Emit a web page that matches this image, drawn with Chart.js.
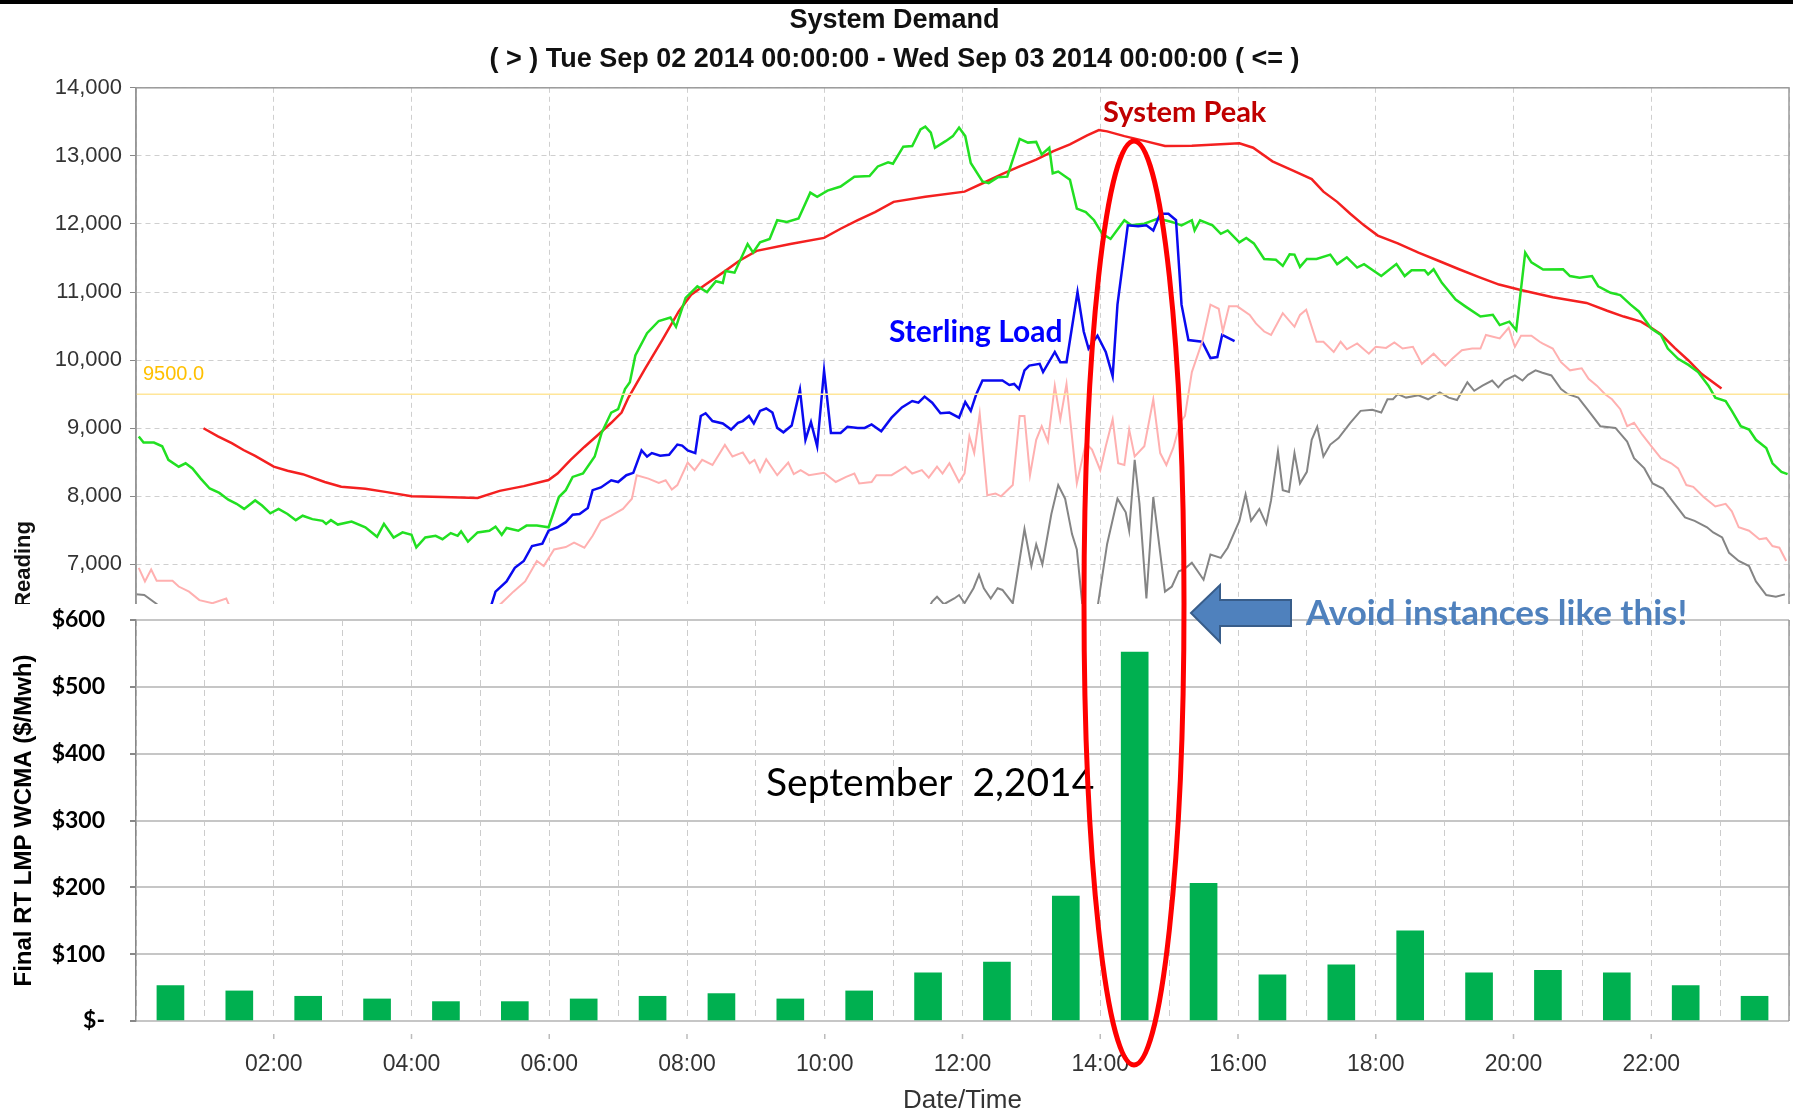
<!DOCTYPE html>
<html lang="en">
<head>
<meta charset="UTF-8">
<title>System Demand</title>
<script src="https://cdn.jsdelivr.net/npm/chart.js"></script>
<style>
  html, body { margin: 0; padding: 0; background: #fff; }
  body { width: 1793px; height: 1116px; position: relative; overflow: hidden; }
  #topbar { position: absolute; left: 0; top: 0; width: 1793px; height: 4px; background: #000; z-index: 5; }
  .layer { position: absolute; left: 0; top: 0; width: 1793px; height: 1116px; }
</style>
</head>
<body>
<div id="topbar"></div>
<div class="layer"><canvas id="demandChart"></canvas></div>
<div class="layer"><canvas id="priceChart"></canvas></div>

<script>
// ---- top chart: readings (MW) by hour of day ----
const peakHours = [0.98,1.19,1.39,1.56,1.73,2.0,2.2,2.42,2.74,2.98,3.33,3.62,4.0,4.45,4.96,5.28,5.63,5.99,6.12,6.31,6.51,6.71,6.9,7.05,7.15,7.39,7.64,7.88,8.06,8.27,8.52,8.76,9.01,9.5,9.99,10.23,10.48,10.73,11.0,11.46,12.03,12.34,12.58,12.83,13.07,13.32,13.56,13.81,13.98,14.1,14.35,14.64,14.94,15.33,16.02,16.22,16.5,16.8,17.07,17.24,17.44,17.63,17.83,18.03,18.32,18.62,18.91,19.21,19.5,19.79,20.09,20.57,21.06,21.36,21.6,21.85,22.0,22.14,22.34,22.54,22.73,23.02];
const peakMw = [9000,8880,8780,8680,8595,8435,8375,8325,8210,8140,8110,8065,8000,7990,7975,8080,8150,8240,8335,8535,8725,8905,9080,9230,9450,9870,10295,10715,10960,11110,11285,11460,11605,11705,11795,11930,12055,12175,12325,12400,12475,12620,12735,12845,12945,13070,13170,13300,13380,13360,13290,13220,13145,13150,13185,13120,12920,12785,12660,12475,12325,12150,11980,11830,11715,11580,11460,11335,11220,11110,11035,10925,10840,10725,10640,10565,10475,10380,10180,9995,9800,9585];

const demandHours = [0.04,0.11,0.26,0.38,0.47,0.62,0.72,0.82,0.94,1.07,1.21,1.34,1.46,1.57,1.73,1.83,1.95,2.07,2.2,2.32,2.42,2.56,2.71,2.76,2.83,2.93,3.13,3.33,3.5,3.6,3.74,3.87,4.0,4.07,4.2,4.35,4.45,4.57,4.67,4.72,4.82,4.96,5.13,5.22,5.31,5.38,5.55,5.67,5.82,5.99,6.14,6.24,6.34,6.49,6.66,6.76,6.9,7.0,7.1,7.17,7.25,7.42,7.59,7.76,7.84,7.98,8.15,8.29,8.42,8.52,8.56,8.69,8.88,8.96,9.06,9.2,9.31,9.45,9.62,9.79,9.89,10.04,10.23,10.43,10.65,10.77,10.92,10.99,11.14,11.27,11.39,11.46,11.54,11.6,11.76,11.86,11.95,12.04,12.12,12.29,12.38,12.51,12.65,12.73,12.83,12.95,13.07,13.15,13.26,13.31,13.39,13.56,13.66,13.79,13.91,14.03,14.15,14.35,14.45,14.64,14.84,15.04,15.18,15.33,15.37,15.45,15.63,15.75,15.85,16.02,16.12,16.23,16.38,16.55,16.65,16.75,16.82,16.9,17.0,17.14,17.34,17.44,17.58,17.73,17.83,18.08,18.3,18.42,18.52,18.71,18.76,18.84,18.96,19.16,19.3,19.52,19.7,19.8,19.94,20.04,20.17,20.26,20.43,20.72,20.82,20.96,21.14,21.23,21.41,21.55,21.7,21.82,22.0,22.14,22.24,22.39,22.54,22.68,22.83,22.93,23.08,23.17,23.3,23.42,23.52,23.67,23.76,23.89,23.98];
const demandMw = [8880,8790,8790,8735,8535,8435,8485,8410,8260,8115,8050,7950,7890,7815,7940,7865,7750,7815,7740,7650,7715,7665,7640,7595,7650,7585,7630,7545,7405,7595,7395,7470,7435,7250,7395,7420,7370,7460,7420,7485,7335,7470,7495,7555,7435,7535,7495,7570,7570,7545,7990,8090,8285,8335,8585,8930,9230,9280,9575,9675,10070,10395,10575,10625,10490,10915,11085,11000,11160,11135,11310,11285,11705,11580,11730,11780,12055,12030,12080,12460,12400,12490,12550,12695,12705,12845,12905,12885,13135,13145,13390,13430,13340,13120,13220,13290,13415,13290,12895,12625,12600,12685,12695,12945,13250,13195,13205,13020,13120,12745,12770,12650,12225,12175,12055,11855,11780,12055,11980,12005,12080,12030,11980,12055,11905,12055,11980,11855,11905,11730,11795,11715,11485,11475,11385,11555,11550,11370,11485,11485,11550,11410,11510,11360,11410,11235,11410,11235,11320,11320,11260,11335,11135,10890,10790,10640,10665,10515,10565,10440,11580,11435,11330,11335,11235,11210,11235,11085,10990,10955,10815,10715,10465,10370,10170,10020,9930,9825,9625,9450,9400,9255,9030,8980,8830,8710,8485,8360,8325];

const sterlingHours = [5.1,5.16,5.22,5.38,5.5,5.63,5.75,5.9,5.99,6.12,6.24,6.34,6.44,6.56,6.63,6.75,6.9,7.0,7.12,7.22,7.34,7.42,7.49,7.61,7.74,7.86,7.93,8.01,8.12,8.2,8.27,8.37,8.52,8.64,8.74,8.81,8.9,8.97,9.06,9.15,9.24,9.31,9.4,9.52,9.64,9.72,9.8,9.89,9.99,10.09,10.23,10.33,10.48,10.58,10.68,10.82,10.97,11.12,11.27,11.36,11.45,11.56,11.68,11.81,11.95,12.04,12.12,12.2,12.29,12.58,12.68,12.75,12.82,12.9,12.97,13.12,13.17,13.34,13.42,13.51,13.67,13.76,13.83,13.96,14.08,14.18,14.25,14.4,14.55,14.67,14.77,14.87,14.99,15.1,15.18,15.28,15.48,15.6,15.7,15.77,15.95];
const sterlingMw = [6250,6405,6600,6750,6950,7050,7270,7305,7495,7545,7620,7730,7740,7830,8090,8130,8235,8210,8310,8345,8675,8585,8635,8595,8610,8760,8745,8675,8635,9180,9220,9105,9070,8980,9080,9105,9180,9070,9255,9290,9230,9005,8940,9040,9565,8830,9090,8735,9845,8930,8930,9020,9005,9005,9055,8955,9155,9305,9400,9375,9465,9375,9220,9230,9155,9385,9255,9500,9700,9700,9635,9650,9575,9850,9920,9945,9825,10120,9970,9970,11000,10420,10170,10360,10120,9765,10815,11980,11965,11980,11905,12150,12150,12055,10815,10295,10270,10030,10045,10370,10280];

const pinkHours = [0.04,0.13,0.22,0.3,0.53,0.62,0.77,0.92,1.11,1.31,1.36,1.45,5.2,5.28,5.48,5.65,5.82,5.92,6.07,6.24,6.36,6.51,6.63,6.75,6.9,7.07,7.2,7.27,7.44,7.59,7.69,7.78,7.86,8.01,8.11,8.22,8.37,8.55,8.66,8.81,8.91,8.98,9.06,9.15,9.31,9.47,9.55,9.65,9.77,9.99,10.16,10.31,10.43,10.5,10.68,10.75,10.97,11.17,11.27,11.41,11.51,11.63,11.71,11.81,11.95,12.03,12.1,12.17,12.25,12.36,12.48,12.56,12.73,12.83,12.9,12.98,13.07,13.15,13.24,13.34,13.42,13.51,13.66,13.79,13.88,14.0,14.08,14.18,14.26,14.35,14.42,14.5,14.64,14.77,14.87,14.96,15.06,15.16,15.23,15.33,15.48,15.6,15.72,15.78,15.87,15.99,16.17,16.26,16.38,16.48,16.65,16.82,16.9,16.99,17.14,17.24,17.39,17.49,17.58,17.73,17.9,18.0,18.15,18.27,18.39,18.54,18.67,18.84,19.01,19.11,19.25,19.4,19.52,19.6,19.8,19.93,20.02,20.11,20.26,20.38,20.42,20.57,20.69,20.82,20.99,21.09,21.21,21.33,21.43,21.55,21.65,21.75,21.87,22.02,22.14,22.29,22.39,22.51,22.61,22.76,22.93,23.08,23.17,23.27,23.42,23.57,23.67,23.76,23.86,23.96];
const pinkMw = [6950,6750,6925,6760,6760,6675,6600,6475,6430,6500,6380,6250,6250,6405,6600,6750,7050,6975,7220,7255,7320,7245,7420,7640,7715,7815,7965,8310,8260,8195,8235,8100,8165,8495,8385,8535,8460,8755,8585,8645,8485,8535,8360,8545,8310,8495,8325,8385,8310,8345,8210,8285,8335,8190,8210,8310,8310,8435,8335,8385,8275,8435,8335,8485,8210,8335,8880,8635,9215,8015,8040,8000,8165,9180,9180,8310,8830,9030,8805,9625,9130,9650,8190,8780,8685,8385,8735,9130,8485,8460,8980,8585,8735,9425,8635,8460,8710,9080,9180,9825,10270,10815,10755,10420,10790,10790,10665,10540,10420,10370,10690,10490,10665,10740,10270,10270,10120,10270,10160,10245,10095,10195,10180,10260,10170,10195,9945,10095,9920,10020,10145,10170,10170,10370,10320,10475,10195,10360,10360,10270,10245,10170,9970,9850,9880,9725,9625,9500,9425,9280,9030,9080,8905,8710,8560,8485,8410,8165,8140,7990,7850,7890,7780,7545,7495,7370,7385,7270,7245,7050];

const grayHours = [0.0,0.12,0.3,0.45,11.45,11.56,11.63,11.73,11.88,11.95,12.03,12.16,12.24,12.31,12.41,12.51,12.58,12.73,12.9,13.0,13.07,13.16,13.29,13.39,13.49,13.59,13.66,13.75,13.95,14.1,14.25,14.37,14.42,14.5,14.57,14.67,14.77,14.94,15.04,15.14,15.21,15.33,15.5,15.6,15.75,15.85,16.02,16.11,16.19,16.31,16.41,16.48,16.58,16.65,16.74,16.82,16.9,17.0,17.07,17.15,17.24,17.34,17.46,17.63,17.78,17.95,18.08,18.17,18.25,18.32,18.44,18.62,18.76,18.93,19.06,19.18,19.33,19.43,19.55,19.69,19.78,19.87,20.02,20.13,20.21,20.32,20.42,20.55,20.69,20.79,20.94,21.09,21.26,21.48,21.65,21.75,21.9,22.02,22.17,22.34,22.49,22.63,22.81,22.9,23.03,23.13,23.27,23.42,23.52,23.67,23.81,23.94];
const grayMw = [6560,6550,6420,6250,6250,6455,6525,6415,6500,6550,6430,6650,6850,6650,6500,6650,6625,6430,7520,6975,7295,7000,7740,8165,7965,7445,7220,6300,6300,7300,7965,7765,7495,8535,7890,6500,7990,6600,6675,6900,6925,7025,6775,7145,7095,7245,7640,8030,7640,7815,7595,7940,8660,8090,8065,8635,8190,8360,8830,9020,8585,8760,8855,9080,9255,9270,9230,9425,9425,9500,9450,9485,9425,9525,9450,9415,9675,9550,9625,9700,9600,9700,9775,9700,9785,9850,9815,9775,9575,9500,9450,9255,9030,9005,8805,8560,8410,8190,8115,7890,7690,7640,7545,7470,7395,7170,7050,6975,6750,6550,6525,6560];

const thresholdMw = 9500;

// ---- bottom chart: hourly price ----
const priceHours = [0.5,1.5,2.5,3.5,4.5,5.5,6.5,7.5,8.5,9.5,10.5,11.5,12.5,13.5,14.5,15.5,16.5,17.5,18.5,19.5,20.5,21.5,22.5,23.5];
const priceUsd = [53,45,37,33,29,29,33,37,41,33,45,72,88,187,552,206,69,84,135,72,76,72,53,37];
const timeLabels = ['', '02:00', '04:00', '06:00', '08:00', '10:00', '12:00', '14:00', '16:00', '18:00', '20:00', '22:00', ''];

const pts = (xs, ys) => xs.map((x, i) => ({ x: x, y: ys[i] }));
const sans = 'Liberation Sans, Arial, sans-serif';
const callout = 'Lato, "Open Sans", sans-serif';

function line(data, color, width) {
    return { data: data, borderColor: color, borderWidth: width, pointRadius: 0, tension: 0, fill: false };
}

// box around the plot, like the original tool
const framePlugin = {
    id: 'frame',
    afterDraw(chart) {
        const a = chart.chartArea, ctx = chart.ctx;
        ctx.save();
        ctx.strokeStyle = '#9a9a9a';
        ctx.lineWidth = 1.5;
        ctx.strokeRect(a.left, a.top, a.right - a.left, a.bottom - a.top);
        ctx.restore();
    }
};

const thresholdLabel = {
    id: 'thresholdLabel',
    afterDatasetsDraw(chart) {
        const ctx = chart.ctx, y = chart.scales.y.getPixelForValue(thresholdMw);
        ctx.save();
        ctx.font = '20px ' + sans;
        ctx.fillStyle = '#ffc000';
        ctx.textBaseline = 'middle';
        ctx.fillText(thresholdMw.toFixed(1), chart.chartArea.left + 7, y - 20);
        ctx.restore();
    }
};

new Chart(document.getElementById('demandChart'), {
    type: 'line',
    data: {
        datasets: [
            line([{ x: 0, y: thresholdMw }, { x: 24, y: thresholdMw }], '#ffe699', 1.5),
            line(pts(grayHours, grayMw), '#858585', 2),
            line(pts(pinkHours, pinkMw), '#ffb0b0', 2),
            line(pts(sterlingHours, sterlingMw), '#0a0af0', 2.5),
            line(pts(demandHours, demandMw), '#22e022', 2.5),
            line(pts(peakHours, peakMw), '#f42020', 2.5)
        ]
    },
    options: {
        responsive: true,
        maintainAspectRatio: false,
        animation: false,
        layout: { padding: { top: 0, right: 4, bottom: 0, left: 0 } },
        plugins: {
            legend: { display: false },
            tooltip: { enabled: false },
            title: {
                display: true,
                text: 'System Demand',
                color: '#111',
                font: { family: sans, size: 27, weight: 'bold' },
                padding: { top: 4, bottom: 7 }
            },
            subtitle: {
                display: true,
                text: '( > ) Tue Sep 02 2014 00:00:00 - Wed Sep 03 2014 00:00:00 ( <= )',
                color: '#111',
                font: { family: sans, size: 27, weight: 'bold' },
                padding: { top: 0, bottom: 12 }
            }
        },
        scales: {
            x: {
                type: 'linear',
                min: 0,
                max: 24,
                ticks: { stepSize: 2, display: false },
                grid: { color: '#cfcfcf', drawTicks: false },
                border: { display: false, dash: [5, 4] },
                afterFit(s) { s.height = 75; s.paddingLeft = 0; s.paddingRight = 0; }
            },
            y: {
                min: 0,
                max: 14000,
                ticks: {
                    stepSize: 1000,
                    color: '#333',
                    font: { family: sans, size: 22 },
                    padding: 8,
                    callback: v => v.toLocaleString('en-US')
                },
                grid: { color: '#cfcfcf', tickColor: '#888', tickLength: 6 },
                border: { display: true, color: '#888', width: 1.5, dash: [5, 4] },
                title: {
                    display: true,
                    text: 'Reading',
                    color: '#111',
                    font: { family: sans, size: 22, weight: 'bold' },
                    padding: { top: 11, bottom: 0 }
                },
                afterFit(s) { s.width = 136; }
            }
        }
    },
    plugins: [framePlugin, thresholdLabel]
});

// notes pasted over the two charts
const notes = [
    { text: 'System Peak', x: 1103, y: 113, font: 'bold 29px ' + callout, color: '#c00000' },
    { text: 'Sterling Load', x: 889, y: 332, font: 'bold 30px ' + callout, color: '#0000ff' },
    { text: 'Avoid instances like this!', x: 1306, y: 614, font: 'bold 35px ' + callout, color: '#4f81bd' },
    { text: 'September  2,2014', x: 766, y: 783, font: '39px ' + callout, color: '#000' }
];

const overlayPlugin = {
    id: 'overlay',
    beforeDraw(chart) {
        const ctx = chart.ctx;
        ctx.save();
        ctx.fillStyle = '#fff';
        ctx.fillRect(0, 604, chart.width, chart.height - 604);
        ctx.restore();
    },
    afterDraw(chart) {
        const ctx = chart.ctx, a = chart.chartArea, xs = chart.scales.x;
        ctx.save();
        // right edge of the price plot
        ctx.strokeStyle = '#9a9a9a';
        ctx.lineWidth = 1.5;
        ctx.beginPath();
        ctx.moveTo(a.right, a.top);
        ctx.lineTo(a.right, a.bottom);
        ctx.stroke();

        // small time marks under the axis, every two hours
        ctx.strokeStyle = '#bbb';
        ctx.lineWidth = 1.5;
        for (let h = 2; h <= 22; h += 2) {
            const x = xs.getPixelForValue(h);
            ctx.beginPath();
            ctx.moveTo(x, a.bottom + 13);
            ctx.lineTo(x, a.bottom + 18);
            ctx.stroke();
        }

        ctx.textBaseline = 'middle';
        notes.forEach(n => {
            ctx.font = n.font;
            ctx.fillStyle = n.color;
            ctx.fillText(n.text, n.x, n.y);
        });

        // block arrow pointing left
        ctx.beginPath();
        ctx.moveTo(1191, 613);
        ctx.lineTo(1220, 585);
        ctx.lineTo(1220, 600);
        ctx.lineTo(1291, 600);
        ctx.lineTo(1291, 626);
        ctx.lineTo(1220, 626);
        ctx.lineTo(1220, 642);
        ctx.closePath();
        ctx.fillStyle = '#4f81bd';
        ctx.fill();
        ctx.strokeStyle = '#385d8a';
        ctx.lineWidth = 2;
        ctx.stroke();

        // red ring round the spike
        ctx.beginPath();
        ctx.ellipse(1134, 603, 50, 462, 0, 0, Math.PI * 2);
        ctx.strokeStyle = '#ff0000';
        ctx.lineWidth = 5;
        ctx.stroke();
        ctx.restore();
    }
};

new Chart(document.getElementById('priceChart'), {
    type: 'bar',
    data: {
        datasets: [{
            data: pts(priceHours, priceUsd),
            backgroundColor: '#00b050',
            barThickness: 27
        }]
    },
    options: {
        responsive: true,
        maintainAspectRatio: false,
        animation: false,
        layout: { padding: { top: 620, right: 4, bottom: 0, left: 0 } },
        plugins: { legend: { display: false }, tooltip: { enabled: false } },
        scales: {
            x: {
                type: 'linear',
                min: 0,
                max: 24,
                offset: false,
                ticks: {
                    stepSize: 1,
                    autoSkip: false,
                    maxRotation: 0,
                    color: '#333',
                    font: { family: sans, size: 23 },
                    padding: 30,
                    callback: v => (v % 2 === 0 ? timeLabels[v / 2] : '')
                },
                grid: { color: '#cccccc', drawTicks: false, offset: false },
                border: { display: false, dash: [6, 4] },
                title: {
                    display: true,
                    text: 'Date/Time',
                    color: '#333',
                    font: { family: sans, size: 26 },
                    padding: { top: 0, bottom: 0 }
                },
                afterFit(s) { s.height = 95; s.paddingLeft = 0; s.paddingRight = 0; }
            },
            y: {
                min: 0,
                max: 600,
                ticks: {
                    stepSize: 100,
                    color: '#000',
                    font: { family: callout, size: 23, weight: 'bold' },
                    padding: 25,
                    callback: v => (v === 0 ? '$-' : '$' + v)
                },
                grid: { color: '#c6c6c6', lineWidth: 2, tickColor: '#888', tickLength: 6 },
                border: { display: true, color: '#888', width: 1.5 },
                title: {
                    display: true,
                    text: 'Final RT LMP WCMA ($/Mwh)',
                    color: '#000',
                    font: { family: sans, size: 24, weight: 'bold' },
                    padding: { top: 10, bottom: 0 }
                },
                afterFit(s) { s.width = 136; }
            }
        }
    },
    plugins: [overlayPlugin]
});
</script>
</body>
</html>
